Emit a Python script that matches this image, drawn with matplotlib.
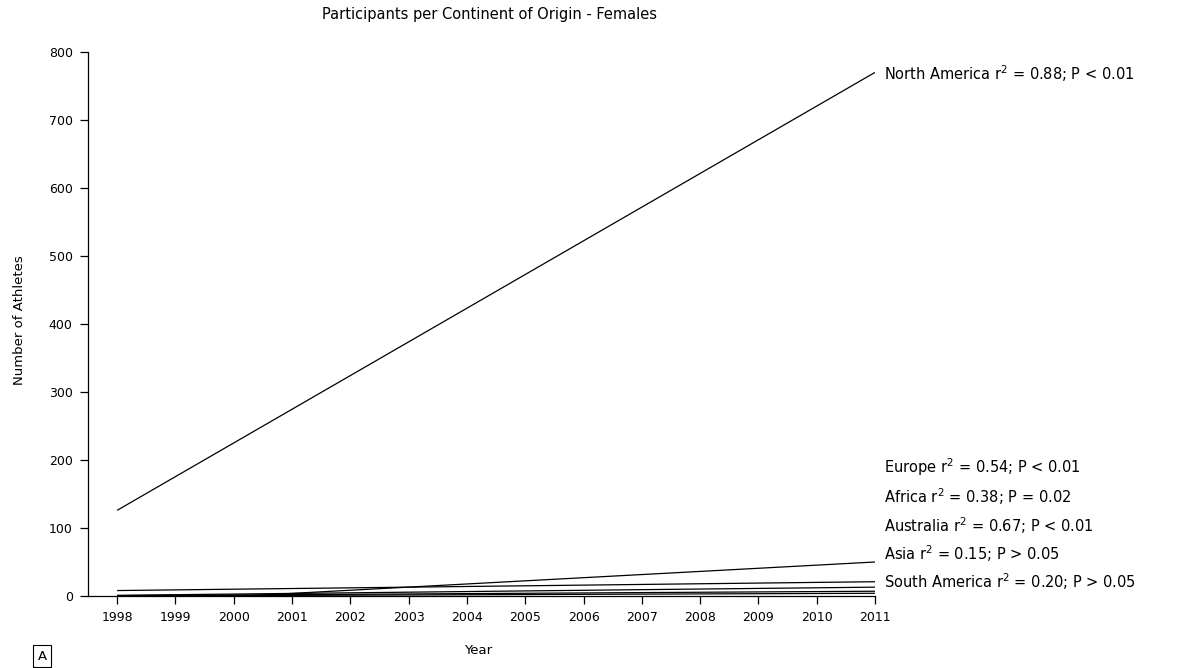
import matplotlib
matplotlib.use("Agg")
import matplotlib.pyplot as plt

plt.rcParams['font.family'] = ['DejaVu Sans']
plt.rcParams['mathtext.fontset'] = 'dejavusans'

# Regression line endpoints (value at 1998, value at 2011)
years = [1998, 2011]
north_america = [126, 770]
europe = [-10, 50]
africa = [8, 21]
australia = [1, 13]
south_america = [0.5, 7]
asia = [0, 4]

series = [north_america, europe, africa, australia, south_america, asia]

labels = [
    "North America r$^2$ = 0.88; P < 0.01",
    "Europe r$^2$ = 0.54; P < 0.01",
    "Africa r$^2$ = 0.38; P = 0.02",
    "Australia r$^2$ = 0.67; P < 0.01",
    "Asia r$^2$ = 0.15; P > 0.05",
    "South America r$^2$ = 0.20; P > 0.05",
]
label_values = [768, 190, 146, 104, 63, 21]

xticks = list(range(1998, 2012))
yticks = list(range(0, 801, 100))

W, H = 1182, 668
fig = plt.figure(figsize=(W / 100, H / 100), dpi=100)
ax = fig.add_axes([88 / W, 1 - 596 / H, (875 - 88) / W, (596 - 52) / H])

for s in series:
    ax.plot(years, s, color='black', lw=0.9, solid_capstyle='butt')

ax.set_xlim(1997.5, 2011)
ax.set_ylim(0, 800)
ax.set_xticks(xticks)
ax.set_yticks(yticks)
ax.tick_params(direction='out', length=6, width=0.9, labelsize=9, pad=5, colors='black')
for sp in ['top', 'right']:
    ax.spines[sp].set_visible(False)
for sp in ['left', 'bottom']:
    ax.spines[sp].set_linewidth(0.9)

for lab, v in zip(labels, label_values):
    ax.text(2011.15, v, lab, fontsize=10.5, va='center', ha='left', clip_on=False)

fig.text(489 / W, 1 - 14 / H, "Participants per Continent of Origin - Females",
         ha='center', va='center', fontsize=10.5)
fig.text(20 / W, 1 - 320 / H, "Number of Athletes", rotation=90,
         ha='center', va='center', fontsize=9.5)
fig.text(478 / W, 1 - 651 / H, "Year", ha='center', va='center', fontsize=9.5)
fig.text(42 / W, 1 - 656 / H, "A", ha='center', va='center', fontsize=9.5,
         bbox=dict(boxstyle='square,pad=0.35', fc='white', ec='black', lw=0.8))

fig.savefig("out.png", dpi=100, facecolor='white')
